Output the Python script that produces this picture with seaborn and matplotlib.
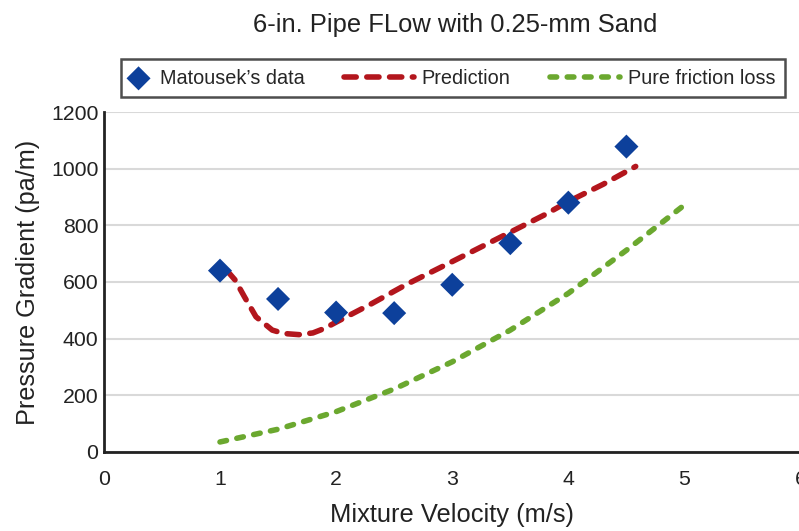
import numpy as np
import pandas as pd
import seaborn as sns
import matplotlib.pyplot as plt
from matplotlib.legend_handler import HandlerPathCollection

# measured data (Matousek)
data_v = [1.0, 1.5, 2.0, 2.5, 3.0, 3.5, 4.0, 4.5]
data_dp = [640, 540, 492, 490, 590, 737, 880, 1078]

# prediction curve
pred_v = [1.06, 1.13, 1.21, 1.31, 1.45, 1.55, 1.68, 1.8, 1.9, 2.0, 2.15, 2.3, 2.6,
          3.0, 3.4, 3.8, 4.0, 4.3, 4.58]
pred_dp = [640, 607, 548, 477, 430, 418, 414, 420, 436, 458, 490, 522, 590,
           672, 755, 838, 884, 945, 1008]

# pure friction loss
fric_v = [1.0, 1.5, 2.0, 2.5, 3.0, 3.5, 4.0, 4.5, 5.0]
fric_dp = [35, 80, 142, 222, 318, 430, 560, 712, 872]


class LeftMarker(HandlerPathCollection):
    # put the diamond near the left of its (shortened) handle box
    def get_xdata(self, legend, xdescent, ydescent, width, height, fontsize):
        x = [-xdescent + 5.5]
        return x, x


sns.set_style('white')
plt.rcParams['font.family'] = ['Liberation Sans', 'DejaVu Sans']

fig = plt.figure(figsize=(7.99, 5.31), dpi=100)
ax = fig.add_axes([0.130, 0.149, 0.872, 0.640])

df_pts = pd.DataFrame({'v': data_v, 'dp': data_dp})
df_pred = pd.DataFrame({'v': pred_v, 'dp': pred_dp})
df_fric = pd.DataFrame({'v': fric_v, 'dp': fric_dp})

sns.lineplot(data=df_fric, x='v', y='dp', ax=ax, color='#6BA82F', lw=4,
             label='Pure friction loss', zorder=2)
sns.lineplot(data=df_pred, x='v', y='dp', ax=ax, color='#B3161D', lw=4,
             label='Prediction', zorder=3)
sns.scatterplot(data=df_pts, x='v', y='dp', ax=ax, marker='D', s=150,
                color='#0D409B', edgecolor='none', label='Matousek\u2019s data', zorder=4)

for ln in ax.get_lines():
    ln.set_solid_capstyle('round')
    ln.set_dash_capstyle('round')
ax.get_lines()[0].set_dashes([1.2, 1.9])
ax.get_lines()[1].set_dashes([2.2, 1.9])

ax.set_xlim(0, 6)
ax.set_ylim(0, 1200)
ax.set_xticks(range(0, 7))
ax.set_yticks(range(0, 1201, 200))
ax.grid(axis='y', color='#D9D9D9', lw=1.5)
ax.set_axisbelow(True)
for s in ['top', 'right']:
    ax.spines[s].set_visible(False)
for s in ['left', 'bottom']:
    ax.spines[s].set_color('#222222')
    ax.spines[s].set_linewidth(2)
ax.tick_params(axis='both', length=0, labelsize=15.3, colors='#222222')
ax.tick_params(axis='y', pad=4)
ax.tick_params(axis='x', pad=13)
ax.set_xlabel('Mixture Velocity (m/s)', fontsize=18.4, color='#222222', labelpad=10)
ax.set_ylabel('Pressure Gradient (pa/m)', fontsize=18.2, color='#222222', labelpad=8)

fig.text(0.57, 0.953, '6-in. Pipe FLow with 0.25-mm Sand', ha='center', va='center',
         fontsize=18.4, color='#222222')

h, l = ax.get_legend_handles_labels()
order = [2, 1, 0]
leg = ax.legend([h[i] for i in order], [l[i] for i in order], ncol=3,
                loc='center', bbox_to_anchor=(0.567, 0.853),
                bbox_transform=fig.transFigure, frameon=True, fancybox=False,
                edgecolor='#222222', fontsize=14.3, handlelength=3.5,
                columnspacing=2.0, handletextpad=0.4, borderpad=0.5,
                borderaxespad=0, handler_map={type(h[2]): LeftMarker()})
leg.get_frame().set_linewidth(1.8)
# shorten the handle box of the first (marker) entry
first_col = leg._legend_handle_box.get_children()[0]
first_col.get_children()[0].get_children()[0].width = 15.0

fig.savefig('out.png', dpi=100)
